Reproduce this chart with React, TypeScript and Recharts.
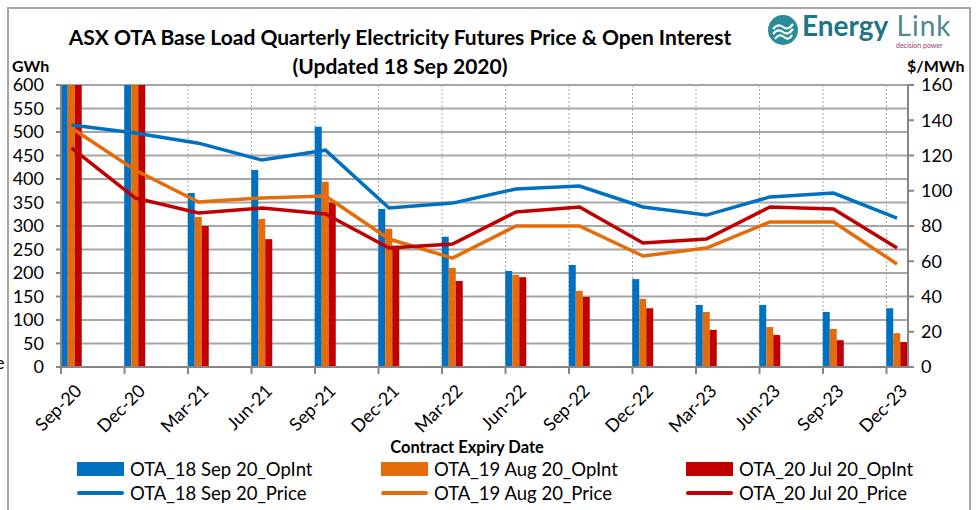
import React from "react";
import {
  ComposedChart,
  Bar,
  Line,
  XAxis,
  YAxis,
  CartesianGrid,
} from "recharts";

const categories = [
  "Sep-20", "Dec-20", "Mar-21", "Jun-21", "Sep-21", "Dec-21", "Mar-22",
  "Jun-22", "Sep-22", "Dec-22", "Mar-23", "Jun-23", "Sep-23", "Dec-23",
];

// open interest (GWh) - first two quarters run off the top of the chart
const opIntSep18 = [1050, 780, 370, 419, 511, 336, 277, 204, 217, 187, 132, 132, 117, 125];
const opIntAug19 = [980, 720, 319, 315, 394, 294, 211, 196, 162, 145, 117, 85, 81, 72];
const opIntJul20 = [920, 690, 300, 272, 350, 258, 183, 191, 149, 125, 79, 68, 57, 53];

// price ($/MWh)
const priceSep18 = [137.3, 132.8, 127, 117.4, 123, 90.2, 93, 101, 102.7, 90.8, 86.2, 96.5, 98.7, 84.5];
const priceAug19 = [135.6, 111.8, 93.6, 95.9, 97, 72.6, 61.8, 80, 80, 63, 67.5, 82.3, 82.3, 58.4];
const priceJul20 = [124.3, 95.9, 87.4, 90.2, 86.8, 67.5, 69.8, 88, 90.8, 70.4, 72.6, 90.8, 89.6, 67.5];

const gwhTicks = [0, 50, 100, 150, 200, 250, 300, 350, 400, 450, 500, 550, 600];
const priceTicks = [0, 20, 40, 60, 80, 100, 120, 140, 160];

const BLUE = "#0070C0";
const ORANGE = "#E46C0A";
const RED = "#C00000";
const FONT = "Lato, 'Open Sans', sans-serif";

const data = categories.map((c, i) => ({
  x: i,
  name: c,
  opSep: opIntSep18[i],
  opAug: opIntAug19[i],
  opJul: opIntJul20[i],
  prSep: priceSep18[i],
  prAug: priceAug19[i],
  prJul: priceJul20[i],
}));

// ticks sit on the left edge of each bar group
const SHIFT = 0.1654;
const xTicks = categories.map((_, i) => i - SHIFT);

const CategoryTick = (props: any) => {
  const { x, y, index } = props;
  const ax = x + 22;
  const ay = y + 16;
  return (
    <text
      x={ax}
      y={ay}
      textAnchor="end"
      fontSize={18}
      fontFamily={FONT}
      fill="#000"
      transform={`rotate(-45, ${ax}, ${ay})`}
    >
      {categories[index]}
    </text>
  );
};

const legendItems = [
  { label: "OTA_18 Sep 20_OpInt", color: BLUE, bar: true, left: 77, top: 469 },
  { label: "OTA_19 Aug 20_OpInt", color: ORANGE, bar: true, left: 381, top: 469 },
  { label: "OTA_20 Jul 20_OpInt", color: RED, bar: true, left: 686, top: 469 },
  { label: "OTA_18 Sep 20_Price", color: BLUE, bar: false, left: 77, top: 493 },
  { label: "OTA_19 Aug 20_Price", color: ORANGE, bar: false, left: 381, top: 493 },
  { label: "OTA_20 Jul 20_Price", color: RED, bar: false, left: 686, top: 493 },
];

export default function App() {
  return (
    <div
      style={{
        position: "absolute",
        left: 0,
        top: 0,
        width: 976,
        height: 510,
        background: "#fff",
        fontFamily: FONT,
        overflow: "hidden",
      }}
    >
      {/* chart frame */}
      <div
        style={{
          position: "absolute",
          left: 7,
          top: 7,
          width: 964,
          height: 520,
          border: "2px solid #a6a6a6",
          boxSizing: "border-box",
        }}
      />

      {/* cut-off fragment at the left edge */}
      <div style={{ position: "absolute", left: -5, top: 352, fontSize: 18, lineHeight: "20px" }}>e</div>

      <ComposedChart
        width={976}
        height={510}
        data={data}
        margin={{ top: 85, right: 0, left: 0, bottom: 83 }}
        barGap={0}
        style={{ position: "absolute", left: 0, top: 0 }}
      >
        <CartesianGrid
          yAxisId="left"
          vertical={false}
          stroke="#a6a6a6"
          strokeWidth={2}
        />
        <CartesianGrid
          yAxisId="left"
          horizontal={false}
          stroke="#a6a6a6"
          strokeDasharray="2 2"
          strokeWidth={1}
        />
        <XAxis
          dataKey="x"
          type="number"
          domain={[-SHIFT, 13.173]}
          ticks={xTicks}
          interval={0}
          height={60}
          allowDataOverflow
          stroke="#868686"
          strokeWidth={2}
          tickSize={7}
          tick={<CategoryTick />}
        />
        <YAxis
          yAxisId="left"
          orientation="left"
          domain={[0, 600]}
          ticks={gwhTicks}
          allowDataOverflow
          width={61}
          stroke="#868686"
          strokeWidth={2}
          tickSize={5}
          tickMargin={12}
          tick={{ fontSize: 18, fill: "#000", fontFamily: FONT }}
          interval={0}
        />
        <YAxis
          yAxisId="right"
          orientation="right"
          domain={[0, 160]}
          ticks={priceTicks}
          width={68}
          stroke="#868686"
          strokeWidth={2}
          tickSize={6}
          tickMargin={7}
          tick={{ fontSize: 18, fill: "#000", fontFamily: FONT }}
          interval={0}
        />
        <Bar yAxisId="left" dataKey="opSep" fill={BLUE} barSize={7} isAnimationActive={false} />
        <Bar yAxisId="left" dataKey="opAug" fill={ORANGE} barSize={7} isAnimationActive={false} />
        <Bar yAxisId="left" dataKey="opJul" fill={RED} barSize={7} isAnimationActive={false} />
        <Line yAxisId="right" dataKey="prSep" stroke={BLUE} strokeWidth={3.5} dot={false} type="linear" isAnimationActive={false} />
        <Line yAxisId="right" dataKey="prAug" stroke={ORANGE} strokeWidth={3.5} dot={false} type="linear" isAnimationActive={false} />
        <Line yAxisId="right" dataKey="prJul" stroke={RED} strokeWidth={3.5} dot={false} type="linear" isAnimationActive={false} />
      </ComposedChart>

      {/* title */}
      <div
        style={{
          position: "absolute",
          left: 0,
          width: 800,
          top: 22,
          textAlign: "center",
          fontWeight: 700,
          fontSize: 21,
          lineHeight: "29px",
          color: "#000",
        }}
      >
        ASX OTA Base Load Quarterly Electricity Futures Price &amp; Open Interest
        <br />
        (Updated 18 Sep 2020)
      </div>

      {/* axis unit labels */}
      <div style={{ position: "absolute", left: 12, top: 56, fontWeight: 700, fontSize: 16, lineHeight: "19px" }}>GWh</div>
      <div style={{ position: "absolute", left: 907, top: 56, fontWeight: 700, fontSize: 16, lineHeight: "19px" }}>$/MWh</div>

      {/* logo */}
      <div style={{ position: "absolute", left: 767, top: 12, width: 200, height: 40 }}>
        <svg width={32} height={32} style={{ position: "absolute", left: 0, top: 2 }}>
          <circle cx={16} cy={16} r={15} fill="#2b8c99" />
          <path d="M6 15 Q11 9 16 13 T26 10" stroke="#fff" strokeWidth={2.2} fill="none" />
          <path d="M6 20 Q11 14 16 18 T26 15" stroke="#fff" strokeWidth={2.2} fill="none" />
          <path d="M8 25 Q12 19 17 23 T25 21" stroke="#fff" strokeWidth={2.2} fill="none" />
        </svg>
        <div
          style={{
            position: "absolute",
            left: 35,
            top: -4,
            fontSize: 28,
            lineHeight: "34px",
            whiteSpace: "nowrap",
          }}
        >
          <span style={{ color: "#1f7582", fontWeight: 700 }}>Energy</span>
          <span style={{ color: "#4f8790", fontWeight: 400, letterSpacing: 1 }}> Link</span>
        </div>
        <div
          style={{
            position: "absolute",
            left: 129,
            top: 29,
            fontSize: 7,
            lineHeight: "8px",
            color: "#a0336b",
            whiteSpace: "nowrap",
          }}
        >
          decision power
        </div>
      </div>

      {/* x axis title */}
      <div
        style={{
          position: "absolute",
          left: 347,
          width: 240,
          top: 436,
          textAlign: "center",
          fontWeight: 700,
          fontSize: 16.5,
          lineHeight: "22px",
        }}
      >
        Contract Expiry Date
      </div>

      {/* legend */}
      {legendItems.map((it) => (
        <div
          key={it.label}
          style={{
            position: "absolute",
            left: it.left,
            top: it.top - 11,
            height: 22,
            display: "flex",
            alignItems: "center",
            whiteSpace: "nowrap",
          }}
        >
          <span
            style={{
              display: "inline-block",
              width: 47,
              height: it.bar ? 14 : 4,
              borderRadius: it.bar ? 0 : 2,
              background: it.color,
              marginRight: 6,
            }}
          />
          <span style={{ fontSize: 18.5, color: "#000" }}>{it.label}</span>
        </div>
      ))}
    </div>
  );
}
